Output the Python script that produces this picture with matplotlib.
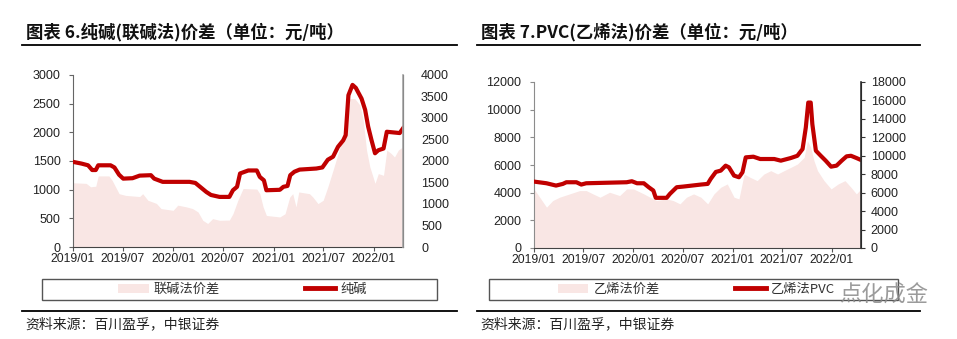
import matplotlib
matplotlib.use('Agg')
import matplotlib.pyplot as plt
import matplotlib.dates as mdates
from matplotlib.patches import Rectangle, Patch
from matplotlib.lines import Line2D
import pandas as pd

plt.rcParams['font.family'] = ['Liberation Sans', 'Noto Sans CJK SC', 'DejaVu Sans']
CJK = ['Noto Sans CJK SC', 'DejaVu Sans']

# ---- 纯碱 price (right axis) ----
soda_dates = ['2019-01-01', '2019-02-01', '2019-02-25', '2019-03-12', '2019-03-25', '2019-04-03',
              '2019-05-18', '2019-06-01', '2019-06-18', '2019-07-03', '2019-08-06', '2019-09-01',
              '2019-10-12', '2019-10-24', '2019-11-24', '2020-03-01', '2020-03-22', '2020-04-12',
              '2020-05-01', '2020-05-18', '2020-06-18', '2020-07-24', '2020-08-06', '2020-08-21',
              '2020-09-01', '2020-10-01', '2020-11-01', '2020-11-12', '2020-11-27', '2020-12-06',
              '2021-01-24', '2021-02-06', '2021-02-21', '2021-03-03', '2021-03-18', '2021-04-06',
              '2021-06-06', '2021-06-28', '2021-07-18', '2021-08-06', '2021-08-24', '2021-09-12',
              '2021-09-21', '2021-10-01', '2021-10-16', '2021-10-28', '2021-11-18', '2021-12-01',
              '2021-12-12', '2021-12-24', '2022-01-06', '2022-01-18', '2022-02-06', '2022-02-18',
              '2022-04-06', '2022-04-18']
soda_price = [1980, 1940, 1900, 1790, 1790, 1900,
              1900, 1850, 1680, 1590, 1600, 1660,
              1670, 1590, 1515, 1515, 1490, 1380,
              1280, 1210, 1165, 1165, 1320, 1400,
              1710, 1780, 1780, 1630, 1550, 1320,
              1330, 1400, 1420, 1670, 1750, 1800,
              1825, 1850, 2030, 2100, 2330, 2480,
              2600, 3530, 3770, 3700, 3450, 3190,
              2800, 2490, 2180, 2250, 2290, 2680,
              2650, 2760]

# ---- 联碱法价差 (left axis) ----
soda_spread_dates = ['2019-01-01', '2019-02-18', '2019-03-06', '2019-03-25', '2019-04-03', '2019-05-12',
                     '2019-05-24', '2019-06-18', '2019-07-12', '2019-09-01', '2019-09-12', '2019-10-01',
                     '2019-11-01', '2019-11-18', '2020-01-01', '2020-01-18', '2020-02-18', '2020-03-12',
                     '2020-04-01', '2020-04-18', '2020-05-06', '2020-05-24', '2020-06-18', '2020-07-24',
                     '2020-08-06', '2020-08-24', '2020-09-12', '2020-11-01', '2020-11-12', '2020-11-24',
                     '2020-12-06', '2021-01-24', '2021-02-12', '2021-03-01', '2021-03-12', '2021-03-24',
                     '2021-04-03', '2021-05-12', '2021-05-24', '2021-06-12', '2021-07-01', '2021-07-18',
                     '2021-08-06', '2021-09-01', '2021-09-24', '2021-10-06', '2021-10-24', '2021-11-12',
                     '2021-11-24', '2021-12-06', '2021-12-18', '2022-01-06', '2022-01-18', '2022-02-06',
                     '2022-02-18', '2022-03-06', '2022-03-18', '2022-04-01', '2022-04-18']
soda_spread = [1120, 1110, 1050, 1060, 1240, 1240,
               1160, 930, 900, 880, 930, 815,
               760, 670, 640, 730, 700, 670,
               610, 466, 410, 495, 466, 470,
               580, 815, 1020, 1010, 930, 700,
               550, 524, 580, 870, 930, 700,
               960, 930, 873, 757, 815, 1050,
               1340, 1750, 2210, 2590, 2590, 2475,
               2210, 1690, 1400, 1110, 1280, 1250,
               1690, 1630, 1570, 1690, 1750]

# ---- 乙烯法PVC price (right axis) ----
pvc_dates = ['2019-01-01', '2019-02-16', '2019-03-23', '2019-04-17', '2019-04-30', '2019-06-06',
             '2019-06-24', '2019-07-12', '2019-12-08', '2019-12-27', '2020-01-15', '2020-02-09',
             '2020-02-27', '2020-03-15', '2020-03-24', '2020-05-03', '2020-05-15', '2020-06-09',
             '2020-07-03', '2020-09-06', '2020-10-01', '2020-10-12', '2020-10-31', '2020-11-18',
             '2020-12-06', '2020-12-18', '2021-01-06', '2021-01-24', '2021-02-06', '2021-02-18',
             '2021-03-18', '2021-04-12', '2021-06-03', '2021-06-27', '2021-08-03', '2021-08-27',
             '2021-09-15', '2021-09-27', '2021-10-06', '2021-10-15', '2021-10-21', '2021-11-03',
             '2021-11-21', '2021-12-09', '2021-12-29', '2022-01-18', '2022-02-06', '2022-02-24',
             '2022-03-12', '2022-04-01', '2022-04-18']
pvc_price = [7200, 7020, 6770, 6950, 7130, 7130,
             6880, 7020, 7130, 7240, 7020, 7020,
             6590, 6230, 5440, 5440, 5870, 6590,
             6660, 6880, 6950, 7490, 8250, 8390,
             8930, 8750, 7850, 7670, 8210, 9830,
             9900, 9650, 9650, 9470, 9760, 10000,
             10730, 13070, 15770, 15770, 13430, 10550,
             10000, 9470, 8820, 8930, 9470, 9940,
             10000, 9760, 9540]

# ---- 乙烯法价差 (left axis) ----
pvc_spread_dates = ['2019-01-01', '2019-01-22', '2019-02-16', '2019-03-11', '2019-04-05', '2019-05-12',
                    '2019-06-18', '2019-07-12', '2019-08-06', '2019-09-01', '2019-10-06', '2019-11-12',
                    '2019-12-08', '2020-01-02', '2020-02-09', '2020-03-03', '2020-03-27', '2020-05-03',
                    '2020-05-27', '2020-06-21', '2020-07-15', '2020-08-10', '2020-09-06', '2020-10-01',
                    '2020-10-24', '2020-11-18', '2020-12-12', '2021-01-06', '2021-01-24', '2021-02-12',
                    '2021-03-06', '2021-04-01', '2021-04-26', '2021-05-21', '2021-06-15', '2021-07-09',
                    '2021-08-03', '2021-08-27', '2021-09-21', '2021-10-03', '2021-10-15', '2021-10-27',
                    '2021-11-09', '2021-12-03', '2021-12-29', '2022-01-24', '2022-02-18', '2022-03-12',
                    '2022-04-01', '2022-04-18']
pvc_spread = [4270, 3670, 2950, 3430, 3670, 3910,
              4150, 4150, 3910, 3670, 4030, 3790,
              4270, 4270, 3910, 3670, 3430, 3550,
              3430, 3190, 3670, 3910, 3670, 3190,
              3910, 4390, 4630, 3670, 3550, 5350,
              5110, 4870, 5350, 5590, 5350, 5590,
              5830, 6070, 6550, 7750, 7270, 6310,
              5590, 4870, 4270, 4630, 4870, 4390,
              3910, 4270]

W, H = 957, 339
RED = '#C00000'
PINK = '#F9E6E4'

fig = plt.figure(figsize=(W / 100, H / 100), dpi=100)


def px(x, y):
    return x / W, 1 - y / H


def panel(rect, sd, sv, ld, lv, lmax, lstep, rmax, rstep, lspine, rspine, rticks):
    x0, y0, x1, y1 = rect
    ax = fig.add_axes([x0 / W, 1 - y1 / H, (x1 - x0) / W, (y1 - y0) / H])
    ax.fill_between(pd.to_datetime(sd), sv, 0, color=PINK, lw=0)
    ax.set_ylim(0, lmax)
    ax.set_yticks(range(0, lmax + 1, lstep))
    ax2 = ax.twinx()
    ax2.plot(pd.to_datetime(ld), lv, color=RED, lw=3.0, solid_joinstyle='round')
    ax2.set_ylim(0, rmax)
    ax2.set_yticks(range(0, rmax + 1, rstep))
    ax.set_xlim(pd.Timestamp('2019-01-01'), pd.Timestamp('2022-04-18'))
    ax.xaxis.set_major_locator(mdates.MonthLocator(bymonth=[1, 7]))
    ax.xaxis.set_major_formatter(mdates.DateFormatter('%Y/%m'))
    for a in (ax, ax2):
        a.spines['top'].set_visible(False)
        a.tick_params(labelsize=9, colors='#222222', length=3, width=0.8)
    ax.tick_params(axis='x', labelsize=8.8, pad=1.5)
    ax.tick_params(axis='x', colors='#555555', labelcolor='#222222')
    ax.tick_params(axis='y', colors=lspine, labelcolor='#222222', pad=6)
    ax.spines['left'].set_color(lspine)
    ax.spines['bottom'].set_color('#444444')
    ax2.spines['right'].set_color(rspine)
    ax2.spines['right'].set_linewidth(1.2)
    ax2.spines['left'].set_visible(False)
    ax2.spines['bottom'].set_visible(False)
    if rticks:
        ax2.tick_params(axis='y', colors=rspine, labelcolor='#222222', pad=4)
    else:
        ax2.tick_params(axis='y', length=0, labelcolor='#222222', pad=13)
    return ax, ax2


panel((73, 75, 403, 247), soda_spread_dates, soda_spread, soda_dates, soda_price,
      3000, 500, 4000, 500, '#666666', '#A6A6A6', False)
panel((534, 82, 861, 248), pvc_spread_dates, pvc_spread, pvc_dates, pvc_price,
      12000, 2000, 18000, 2000, '#8C8C8C', '#333333', True)

# titles, rules, legends, sources
titles = ['图表 6.纯碱(联碱法)价差（单位：元/吨）', '图表 7.PVC(乙烯法)价差（单位：元/吨）']
spread_names = ['联碱法价差', '乙烯法价差']
price_names = ['纯碱', '乙烯法PVC']
source = '资料来源：百川盈孚，中银证券'

lefts = [22, 477]
rights = [457, 920]
boxes = [(42, 437), (489, 898)]
spacing = [6.4, 5.7]

for i in range(2):
    fig.text(*px(lefts[i] + 4, 32), titles[i], ha='left', va='center', fontsize=12.5,
             fontweight='bold', family=CJK, color='#111111')
    fig.add_artist(Line2D([lefts[i] / W, rights[i] / W], [1 - 45 / H] * 2, color='black', lw=1.3))
    fig.add_artist(Line2D([lefts[i] / W, rights[i] / W], [1 - 311 / H] * 2, color='black', lw=1.3))
    bx0, bx1 = boxes[i]
    fig.add_artist(Rectangle(px(bx0, 300), (bx1 - bx0) / W, 21 / H, transform=fig.transFigure,
                             fill=False, ec='#555555', lw=1.0))
    handles = [Patch(facecolor=PINK, edgecolor='none'), Line2D([], [], color=RED, lw=3.5)]
    fig.legend(handles, [spread_names[i], price_names[i]], loc='center',
               bbox_to_anchor=px((bx0 + bx1) / 2 + 3, 289.5), ncol=2, frameon=False,
               columnspacing=spacing[i], handlelength=2.3, handletextpad=0.4,
               borderpad=0, prop={'family': CJK, 'size': 9.5}, labelcolor='#333333')
    fig.text(*px(lefts[i] + 3, 324), source, ha='left', va='center', fontsize=10,
             family=CJK, color='#222222', style='italic')

# watermark
fig.text(*px(884, 295), '点化成金', ha='center', va='center', fontsize=16,
         family=CJK, color='#8A8A8A', alpha=0.85)

fig.savefig('out.png', dpi=100)
